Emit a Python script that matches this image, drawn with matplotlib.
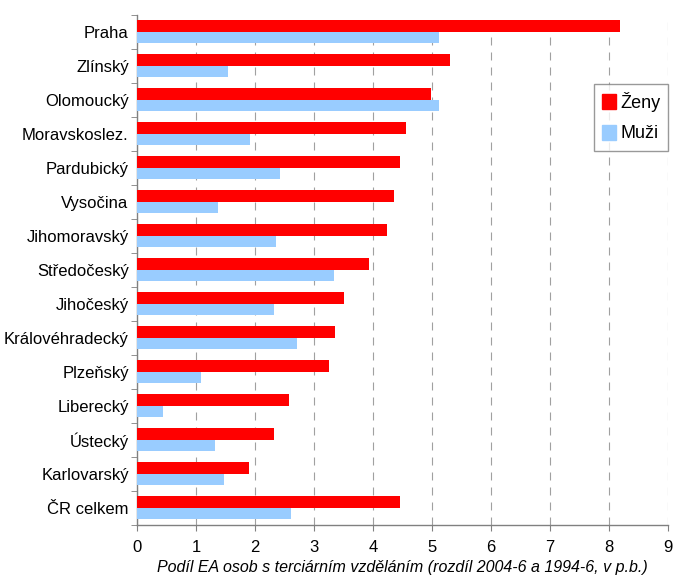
import numpy as np
import matplotlib
matplotlib.use('Agg')
import matplotlib.pyplot as plt
from matplotlib.patches import Patch

plt.rcParams['font.family'] = ['Liberation Sans', 'DejaVu Sans']

regions = ['Praha', 'Zlínský', 'Olomoucký', 'Moravskoslez.', 'Pardubický', 'Vysočina',
           'Jihomoravský', 'Středočeský', 'Jihočeský', 'Královéhradecký', 'Plzeňský',
           'Liberecký', 'Ústecký', 'Karlovarský', 'ČR celkem']
zeny = [8.19, 5.30, 4.98, 4.56, 4.45, 4.36, 4.23, 3.93, 3.51, 3.35, 3.25, 2.58, 2.33, 1.89, 4.45]
muzi = [5.12, 1.55, 5.12, 1.92, 2.43, 1.38, 2.36, 3.34, 2.32, 2.72, 1.08, 0.44, 1.32, 1.47, 2.61]

RED = '#ff0000'
BLUE = '#99ccff'
GREY = '#808080'

fig = plt.figure(figsize=(6.76, 5.76), dpi=100)
ax = fig.add_axes([137 / 676, 1 - 525 / 576, (668 - 137) / 676, (525 - 15) / 576])

n = len(regions)
y = np.arange(n)[::-1].astype(float)
h = 0.35
ax.barh(y + h / 2, zeny, height=h, color=RED, zorder=3)
ax.barh(y - h / 2 + 0.02, muzi, height=h - 0.04, color=BLUE, zorder=3)

ax.set_xlim(0, 9)
ax.set_ylim(-0.5, n - 0.5)
ax.set_xticks(range(10))
ax.set_yticks(y)
ax.set_yticklabels(regions, fontsize=12)
ax.set_yticks(np.arange(-0.5, n, 1), minor=True)
ax.tick_params(axis='y', which='major', length=0, pad=6)
ax.tick_params(axis='y', which='minor', length=4, color=GREY, direction='out')
ax.tick_params(axis='x', length=4, color=GREY, labelsize=12, pad=7)

# dashed vertical grid, roughly 8px dash / 7px gap
ax.xaxis.grid(True, linestyle=(0, (7.2, 6.3)), color='#a0a0a0', linewidth=0.8, zorder=0)
for side in ['top', 'right']:
    ax.spines[side].set_visible(False)
for side in ['left', 'bottom']:
    ax.spines[side].set_color(GREY)
    ax.spines[side].set_linewidth(1.0)

ax.set_xlabel('Podíl EA osob s terciárním vzděláním (rozdíl 2004-6 a 1994-6, v p.b.)',
              fontsize=11.5, style='italic', labelpad=3.5)

handles = [Patch(color=RED, label='Ženy'), Patch(color=BLUE, label='Muži')]
leg = ax.legend(handles=handles, loc='upper left', bbox_to_anchor=((594 - 137) / 531, 1 - (84 - 15) / 510),
                fontsize=13, frameon=True, fancybox=False, edgecolor=GREY, handlelength=0.75,
                handleheight=0.9, handletextpad=0.25, borderpad=0.45, labelspacing=0.7, borderaxespad=0)
leg.get_frame().set_linewidth(1.0)

fig.savefig('out.png', dpi=100)
